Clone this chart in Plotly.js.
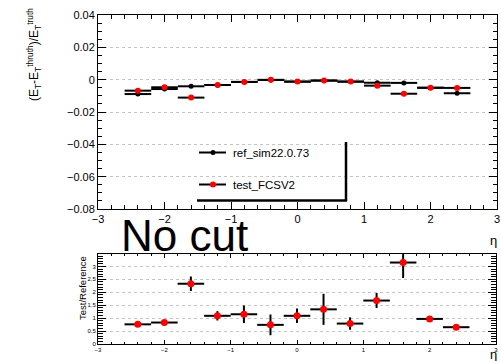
<!DOCTYPE html>
<html>
<head>
<meta charset="utf-8">
<script src="https://cdn.plot.ly/plotly-3.0.1.min.js"></script>
<style>html,body{margin:0;padding:0;background:#fff;}#plot{width:501px;height:361px;}</style>
</head>
<body>
<div id="plot"></div>
<script>
// ---- data ----
const eta = [-2.4, -2.0, -1.6, -1.2, -0.8, -0.4, 0.0, 0.4, 0.8, 1.2, 1.6, 2.0, 2.4];
const binHalfWidth = [0.2, 0.2, 0.2, 0.2, 0.2, 0.2, 0.2, 0.2, 0.2, 0.2, 0.2, 0.2, 0.2];
const refValues = [-0.0089, -0.0058, -0.0041, -0.0033, -0.0014, -0.0002, -0.0012, -0.0006, -0.0012, -0.0019, -0.0020, -0.0050, -0.0084];
const testValues = [-0.0068, -0.0047, -0.0111, -0.0033, -0.0014, -0.0001, -0.0012, -0.0005, -0.0012, -0.0037, -0.0087, -0.0050, -0.0051];
const ratioValues = [0.76, 0.83, 2.33, 1.09, 1.15, 0.74, 1.09, 1.34, 0.79, 1.68, 3.15, 0.97, 0.65];
const ratioErrors = [0.04, 0.04, 0.28, 0.18, 0.34, 0.40, 0.28, 0.60, 0.24, 0.29, 0.60, 0.05, 0.04];
const refName = 'ref_sim22.0.73';
const testName = 'test_FCSV2';

const W = 501, H = 361;
const px = x => x / W;
const py = y => 1 - y / H;
const FONT = 'Liberation Sans, Arial, Helvetica, sans-serif';

const traces = [
  {
    x: eta, y: refValues, type: 'scatter', mode: 'markers', name: refName,
    xaxis: 'x', yaxis: 'y',
    marker: {color: '#000000', size: 5},
    error_x: {type: 'data', array: binHalfWidth, color: '#000000', thickness: 2, width: 0},
    showlegend: false
  },
  {
    x: eta, y: testValues, type: 'scatter', mode: 'markers', name: testName,
    xaxis: 'x', yaxis: 'y',
    marker: {color: '#ff0000', size: 6},
    error_x: {type: 'data', array: binHalfWidth, color: '#000000', thickness: 2, width: 0},
    showlegend: false
  },
  {
    x: eta, y: ratioValues, type: 'scatter', mode: 'markers', name: 'ratio',
    xaxis: 'x2', yaxis: 'y2',
    marker: {color: '#ff0000', size: 7},
    error_x: {type: 'data', array: binHalfWidth, color: '#000000', thickness: 2, width: 0},
    error_y: {type: 'data', array: ratioErrors, color: '#000000', thickness: 2, width: 0},
    showlegend: false,
    cliponaxis: true
  }
];

const gridStyle = {showgrid: true, gridcolor: '#c4c4c4', griddash: 'dot', gridwidth: 1};

const layout = {
  width: W, height: H,
  margin: {l: 0, r: 0, t: 0, b: 0},
  paper_bgcolor: '#ffffff', plot_bgcolor: '#ffffff',
  font: {family: FONT, color: '#000000'},
  showlegend: false,
  xaxis: {
    domain: [px(98), px(497)], anchor: 'y', range: [-3, 3], dtick: 1, tick0: 0,
    ticks: 'inside', ticklen: 7, tickcolor: '#000', mirror: 'ticks', showline: true,
    linecolor: '#000', linewidth: 1, showgrid: false, zeroline: false,
    minor: {dtick: 0.2, ticklen: 4, ticks: 'inside', tickcolor: '#000', showgrid: false},
    tickfont: {size: 11, family: FONT}
  },
  yaxis: Object.assign({
    domain: [py(209), py(15)], anchor: 'x', range: [-0.08, 0.04], dtick: 0.02, tick0: 0,
    ticks: 'inside', ticklen: 8, tickcolor: '#000', mirror: 'ticks', showline: true,
    linecolor: '#000', linewidth: 1, zeroline: false,
    minor: {dtick: 0.005, ticklen: 4, ticks: 'inside', tickcolor: '#000', showgrid: false},
    tickfont: {size: 11, family: FONT}
  }, gridStyle),
  xaxis2: {
    domain: [px(98), px(496)], anchor: 'y2', range: [-3, 3], dtick: 1, tick0: 0,
    ticks: 'inside', ticklen: 4, tickcolor: '#000', mirror: 'ticks', showline: true,
    linecolor: '#000', linewidth: 1, showgrid: false, zeroline: false,
    minor: {dtick: 0.2, ticklen: 2, ticks: 'inside', tickcolor: '#000', showgrid: false},
    tickfont: {size: 6, family: FONT}
  },
  yaxis2: Object.assign({
    domain: [py(344), py(254)], anchor: 'x2', range: [0, 3.48], dtick: 0.5, tick0: 0,
    ticks: 'inside', ticklen: 8, tickcolor: '#000', mirror: 'ticks', showline: true,
    linecolor: '#000', linewidth: 1, zeroline: false,
    minor: {dtick: 0.1, ticklen: 5, ticks: 'inside', tickcolor: '#000', showgrid: false},
    tickfont: {size: 6, family: FONT}
  }, gridStyle),
  shapes: [
    // legend entry symbols
    {type: 'line', xref: 'paper', yref: 'paper', x0: px(199), x1: px(226), y0: py(152.5), y1: py(152.5), line: {color: '#000', width: 2}},
    {type: 'circle', xref: 'paper', yref: 'paper', x0: px(210.5), x1: px(215.5), y0: py(150), y1: py(155), fillcolor: '#000', line: {color: '#000', width: 0}},
    {type: 'line', xref: 'paper', yref: 'paper', x0: px(199), x1: px(226), y0: py(184.5), y1: py(184.5), line: {color: '#000', width: 2}},
    {type: 'circle', xref: 'paper', yref: 'paper', x0: px(210), x1: px(216), y0: py(181.5), y1: py(187.5), fillcolor: '#ff0000', line: {color: '#ff0000', width: 0}},
    // legend shadow border
    {type: 'line', xref: 'paper', yref: 'paper', x0: px(346), x1: px(346), y0: py(142), y1: py(201), line: {color: '#000', width: 2.5}},
    {type: 'line', xref: 'paper', yref: 'paper', x0: px(197), x1: px(347), y0: py(200.5), y1: py(200.5), line: {color: '#000', width: 2.5}}
  ],
  annotations: [
    {text: refName, xref: 'paper', yref: 'paper', x: px(231), y: py(152.5), xanchor: 'left', yanchor: 'middle', showarrow: false, font: {size: 11.5, family: FONT}},
    {text: testName, xref: 'paper', yref: 'paper', x: px(231), y: py(184.5), xanchor: 'left', yanchor: 'middle', showarrow: false, font: {size: 11.5, family: FONT}},
    {text: '(E<sub>T</sub>-E<sub>T</sub><sup>thruth</sup>)/E<sub>T</sub><sup>truth</sup>', xref: 'paper', yref: 'paper', x: px(34), y: py(55), xanchor: 'center', yanchor: 'middle', textangle: -90, showarrow: false, font: {size: 12, family: FONT}},
    {text: 'Test/Reference', xref: 'paper', yref: 'paper', x: px(82), y: py(288), xanchor: 'center', yanchor: 'middle', textangle: -90, showarrow: false, font: {size: 9.5, family: FONT}},
    {text: 'No cut', xref: 'paper', yref: 'paper', x: px(119), y: py(235), xanchor: 'left', yanchor: 'middle', showarrow: false, font: {size: 44, family: FONT}},
    {text: 'η', xref: 'paper', yref: 'paper', x: px(493), y: py(240), xanchor: 'center', yanchor: 'middle', showarrow: false, font: {size: 13, family: FONT}},
    {text: 'η', xref: 'paper', yref: 'paper', x: px(493), y: py(354), xanchor: 'center', yanchor: 'middle', showarrow: false, font: {size: 13, family: FONT}}
  ]
};

Plotly.newPlot('plot', traces, layout, {displayModeBar: false, staticPlot: true});
</script>
</body>
</html>
